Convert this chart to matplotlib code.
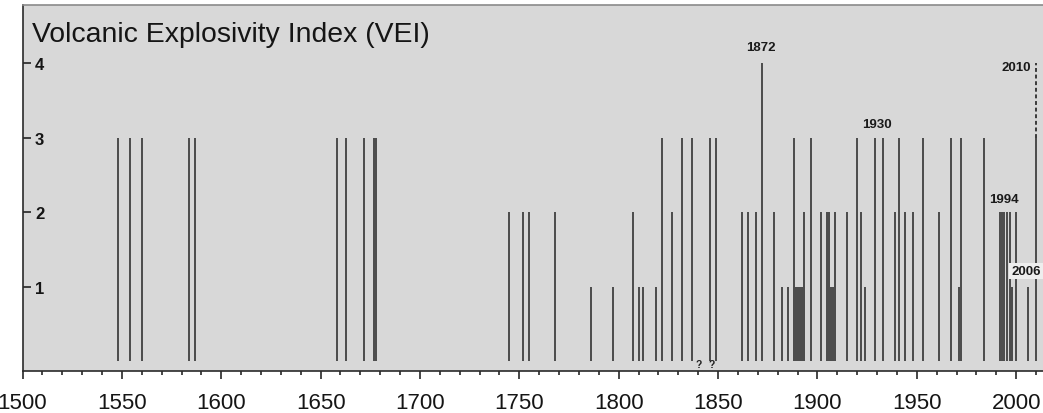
import numpy as np
import matplotlib
matplotlib.use('Agg')
import matplotlib.pyplot as plt

# Eruption years and their VEI
years = [1548, 1554, 1560, 1584, 1587,
         1658, 1663, 1672, 1677, 1678,
         1745, 1752, 1755, 1768, 1786, 1797, 1807, 1810, 1812,
         1819, 1822, 1827, 1832, 1837, 1846, 1849,
         1862, 1865, 1869, 1872, 1878, 1882, 1885, 1888, 1889, 1890,
         1891, 1892, 1893, 1897, 1902, 1905, 1906, 1907, 1908, 1909,
         1915, 1920, 1922, 1924, 1929, 1933, 1939, 1941, 1944, 1948,
         1953, 1961, 1967, 1971, 1972, 1984,
         1992, 1993, 1994, 1995.5, 1997, 1998, 2000, 2006, 2010]
vei = [3, 3, 3, 3, 3,
       3, 3, 3, 3, 3,
       2, 2, 2, 2, 1, 1, 2, 1, 1,
       1, 3, 2, 3, 3, 3, 3,
       2, 2, 2, 4, 2, 1, 1, 3, 1, 1,
       1, 1, 2, 3, 2, 2, 2, 1, 1, 2,
       2, 3, 2, 1, 3, 3, 2, 3, 2, 2,
       3, 2, 3, 1, 3, 3,
       2, 2, 2, 2, 2, 1, 2, 1, 3]

# 2010 eruption: measured VEI 3, dashed extension to possible VEI 4
uncertain_year = 2010
uncertain_range = (3, 4)

# uncertain eruptions marked with '?'
question_years = [1840, 1847]

# labelled eruptions: (text, year, vei position, alignment)
labels = [('1872', 1871.4, 4.21, 'center'),
          ('1930', 1929.8, 3.18, 'center'),
          ('1994', 1993.7, 2.17, 'center'),
          ('2010', 2007.3, 3.95, 'right')]
label_2006 = ('2006', 1997.6, 1.21)

xticks_major = np.arange(1500, 2001, 50)
xticks_minor = np.arange(1500, 2011, 10)
yticks = [1, 2, 3, 4]

plt.rcParams['font.family'] = ['Liberation Sans', 'DejaVu Sans']

fig = plt.figure(figsize=(10.43, 4.14), dpi=100)
ax = fig.add_axes([0.0216, 0.1007, 0.9784, 0.886])
ax.set_facecolor('#d8d8d8')

bar_color = '#3a3a3a'
ax.vlines(years, 0, vei, color=bar_color, linewidth=1.25, capstyle='butt')
ax.vlines(uncertain_year, uncertain_range[0], uncertain_range[1], color=bar_color,
          linewidth=1.4, linestyles=(0, (2.0, 1.4)))

for q in question_years:
    ax.text(q, -0.04, '?', ha='center', va='center', fontsize=7.5,
            fontweight='bold', color='#222222')

for txt, x, y, ha in labels:
    ax.text(x, y, txt, ha=ha, va='center', fontsize=9.5, fontweight='bold',
            color='#1a1a1a')
ax.text(label_2006[1], label_2006[2], label_2006[0], ha='left', va='center',
        fontsize=9.5, fontweight='bold', color='#1a1a1a',
        bbox=dict(facecolor='#eeeeee', edgecolor='none', pad=1.5))

ax.text(0.0088, 0.901, 'Volcanic Explosivity Index (VEI)', transform=ax.transAxes,
        ha='left', va='baseline', fontsize=20.4, color='#151515')

ax.set_xlim(1500, 2013.5)
ax.set_ylim(-0.138, 4.785)

ax.set_xticks(xticks_major)
ax.set_xticks(xticks_minor, minor=True)
ax.tick_params(axis='x', which='major', direction='out', length=5.8, width=1.1,
               pad=9.0, labelsize=16, colors='#151515')
ax.tick_params(axis='x', which='minor', direction='out', length=2.9, width=1.1,
               colors='#151515')

ax.set_yticks(yticks)
ax.tick_params(axis='y', direction='in', length=5.8, width=1.1, pad=-8.9,
               labelsize=12, colors='#151515')
plt.setp(ax.get_yticklabels(), ha='left', fontweight='bold')

for side in ['left', 'bottom']:
    ax.spines[side].set_linewidth(1.2)
    ax.spines[side].set_color('#2a2a2a')
ax.spines['top'].set_linewidth(1.2)
ax.spines['top'].set_color('#8a8a8a')
ax.spines['right'].set_visible(False)

plt.savefig('out.png', dpi=100)
